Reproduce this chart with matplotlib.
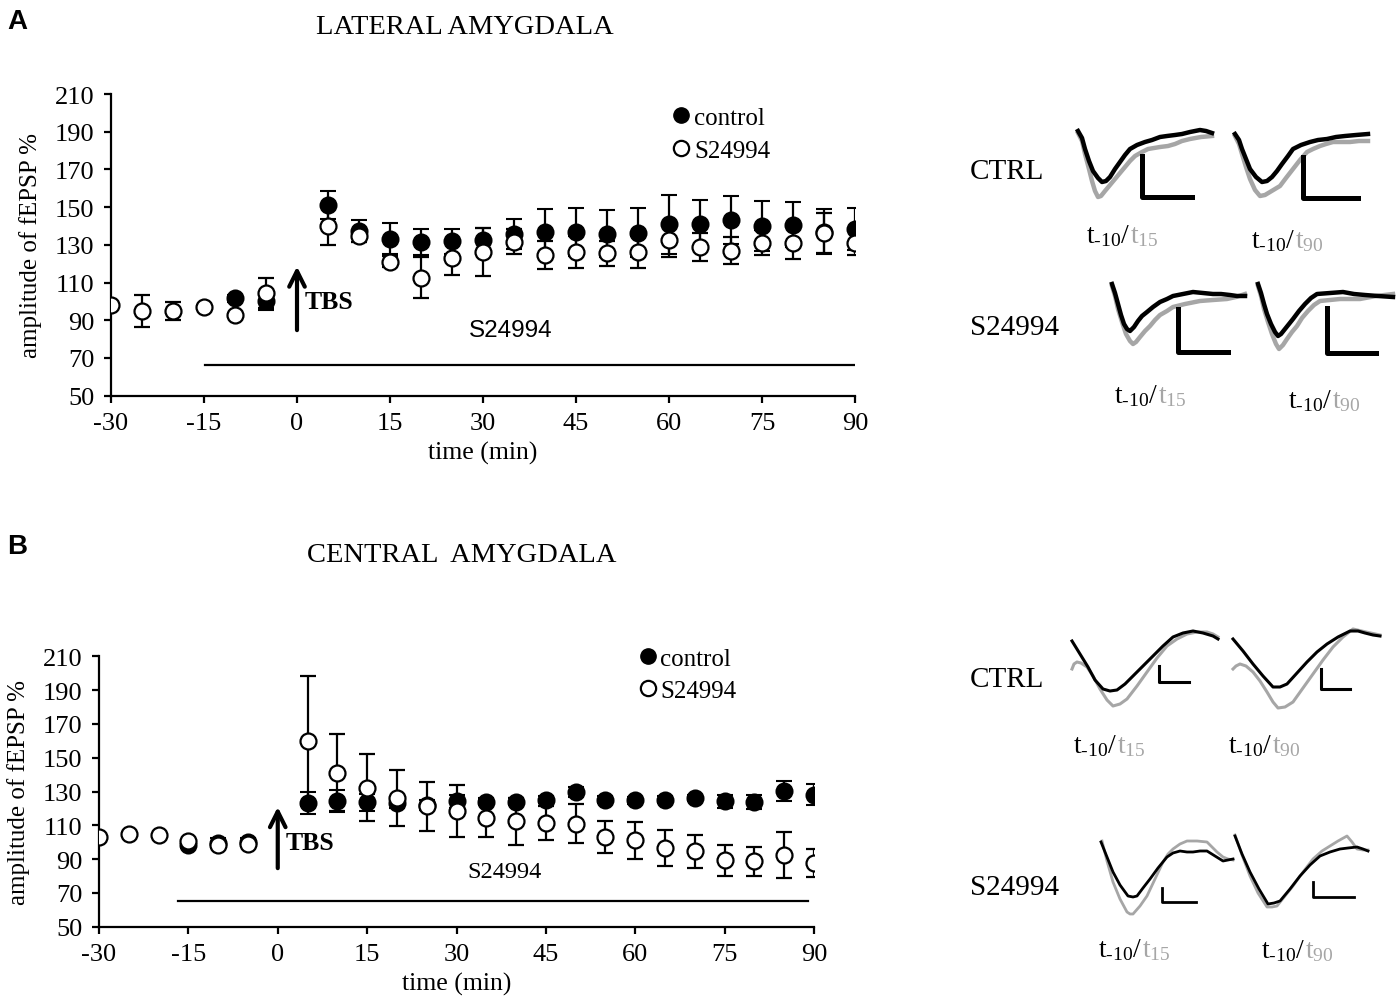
import numpy as np
import matplotlib
matplotlib.use("Agg")
import matplotlib.pyplot as plt
from matplotlib.lines import Line2D

plt.rcParams['font.family'] = ['Liberation Serif', 'DejaVu Serif']
plt.rcParams['mathtext.fontset'] = 'custom'
plt.rcParams['mathtext.rm'] = 'Liberation Serif'
plt.rcParams['mathtext.it'] = 'Liberation Serif:italic'
plt.rcParams['axes.unicode_minus'] = False

W, H = 1400, 1003

# ---- panel A : lateral amygdala ----
a_t_ctrl = [-10, -5, 5, 10, 15, 20, 25, 30, 35, 40, 45, 50, 55, 60, 65, 70, 75, 80, 85, 90]
a_ctrl = [101.6, 100.2, 151, 137.4, 133.3, 131.6, 131.8, 132.5, 135.6, 136.9, 136.9, 136.0,
          136.5, 141.0, 141.3, 143.1, 140.0, 140.6, 137.0, 138.3]
a_ctrl_err = [2, 4.5, 7.3, 5.7, 8.2, 6.9, 6.6, 6.5, 8, 12, 12.9, 12.4, 12.8, 15.6, 12.4,
              12.6, 13.4, 11.9, 12, 11.2]
a_t_drug = [-30, -25, -20, -15, -10, -5, 5, 10, 15, 20, 25, 30, 35, 40, 45, 50, 55, 60,
            65, 70, 75, 80, 85, 90]
a_drug = [98, 94.8, 94.8, 97.2, 92.7, 104.6, 140, 134.7, 121, 112.6, 122.9, 126.3, 131.7,
          124.6, 126.2, 125.5, 126.2, 132.5, 128.9, 126.8, 131.2, 130.9, 136.2, 131.2]
a_drug_err = [1, 8.5, 4.8, 1, 1, 8, 10.2, 3, 3, 10.8, 8.7, 12.8, 6.7, 7.2, 8.3, 6.7, 8.6,
              8.9, 7.4, 7.1, 6.7, 8.6, 10.7, 6.6]

# ---- panel B : central amygdala ----
b_t_ctrl = [-15, -10, -5, 5, 10, 15, 20, 25, 30, 35, 40, 45, 50, 55, 60, 65, 70, 75, 80, 85, 90]
b_ctrl = [98.5, 99.5, 100.3, 123.3, 124.2, 123.6, 123.3, 122, 124.2, 123.9, 123.9, 125.2,
          129.8, 125.2, 124.8, 125.2, 126.2, 124.2, 123.9, 130.2, 128.2]
b_ctrl_err = [2, 3, 2, 6.5, 6.5, 5, 3, 3, 4, 2, 2, 2, 3, 2, 2, 2, 2, 4, 4, 6, 6]
b_t_drug = a_t_drug
b_drug = [103.1, 104.9, 104.0, 100.5, 98.5, 98.9, 159.9, 141.1, 132.2, 126.2, 121.3, 118.7,
          114.4, 112.4, 111.4, 111.0, 103.1, 101.1, 96.6, 94.5, 89.2, 88.6, 92.6, 87.6]
b_drug_err = [1, 1, 1, 1, 1, 1, 38.6, 22.7, 19.8, 16.8, 14.4, 15.4, 11.3, 14, 10.3, 11.7,
              9.4, 10.8, 10.5, 9.8, 9.4, 8.7, 13.7, 8.4]

x_ticks = [-30, -15, 0, 15, 30, 45, 60, 75, 90]
y_ticks = [50, 70, 90, 110, 130, 150, 170, 190, 210]

# drug application bar and TBS arrow
a_drug_bar = (-14.8, 90.5, 66.3)
b_drug_bar = (-16.7, 89.0, 65.2)
a_arrow = (0, 83.3, 120)
b_arrow = (0, 83, 122.5)


def px_axes(left, top, right, bottom):
    return fig.add_axes([left / W, 1 - bottom / H, (right - left) / W, (bottom - top) / H])


def draw_panel(ax, tc, yc, ec, td, yd, ed, bar, arrow, drug_txt, drug_pos, drug_font,
               leg_anchor):
    ax.errorbar(tc, yc, yerr=ec, fmt='o', ms=11.5, mfc='black', mec='black', mew=1.5,
                ecolor='black', elinewidth=1.6, capsize=6, capthick=1.6, zorder=3)
    ax.errorbar(td, yd, yerr=ed, fmt='o', ms=11.5, mfc='white', mec='black', mew=1.6,
                ecolor='black', elinewidth=1.6, capsize=6, capthick=1.6, zorder=4)
    ax.plot([bar[0], bar[1]], [bar[2], bar[2]], color='black', lw=1.6, zorder=2)
    ax.annotate('', xy=(arrow[0], arrow[2]), xytext=(arrow[0], arrow[1]),
                arrowprops=dict(arrowstyle='->', lw=3, color='black', mutation_scale=28))
    ax.text(arrow[0] + 1.3, 100, 'TBS', fontsize=18.5, fontweight='bold', va='center')
    ax.text(drug_pos[0], drug_pos[1], drug_txt, fontsize=17.5, ha='center', va='center',
            family=drug_font)
    ax.set_xlim(-30, 90)
    ax.set_ylim(50, 210)
    ax.set_xticks(x_ticks)
    ax.set_yticks(y_ticks)
    ax.spines['top'].set_visible(False)
    ax.spines['right'].set_visible(False)
    for s in ('left', 'bottom'):
        ax.spines[s].set_linewidth(1.6)
    ax.tick_params(direction='out', length=5, width=1.6, labelsize=19, pad=7)
    ax.set_xlabel('time (min)', fontsize=18.5, labelpad=5)
    ax.set_ylabel('amplitude of fEPSP %', fontsize=18, labelpad=9)
    handles = [Line2D([], [], ls='none', marker='o', ms=11, mfc='black', mec='black'),
               Line2D([], [], ls='none', marker='o', ms=11, mfc='white', mec='black',
                      mew=1.6)]
    ax.legend(handles, ['control', 'S24994'], loc='center left', bbox_to_anchor=leg_anchor,
              frameon=False, fontsize=18, handlelength=0.7, handletextpad=0.15,
              labelspacing=0.4, borderpad=0, borderaxespad=0)
    ax.patch.set_alpha(0)


fig = plt.figure(figsize=(W / 100, H / 100), dpi=100)

axA = px_axes(111, 95, 855, 396.7)
draw_panel(axA, a_t_ctrl, a_ctrl, a_ctrl_err, a_t_drug, a_drug, a_drug_err, a_drug_bar,
           a_arrow, 'S24994', (34.5, 85), ['Liberation Sans'], (0.755, 0.867))
axB = px_axes(99, 657.3, 814, 927.7)
draw_panel(axB, b_t_ctrl, b_ctrl, b_ctrl_err, b_t_drug, b_drug, b_drug_err, b_drug_bar,
           b_arrow, 'S24994', (38, 82.5), ['Liberation Serif'], (0.755, 0.932))

fig.text(7 / W, 1 - 22 / H, 'A', fontsize=20, fontweight='bold', family='Liberation Sans',
         va='center')
fig.text(7 / W, 1 - 547 / H, 'B', fontsize=20, fontweight='bold', family='Liberation Sans',
         va='center')
fig.text(465 / W, 1 - 28 / H, 'LATERAL AMYGDALA', fontsize=20.5, ha='center', va='center')
fig.text(462 / W, 1 - 555 / H, 'CENTRAL  AMYGDALA', fontsize=20.5, ha='center', va='center')

# ---- example fEPSP traces (black t-10, grey t15 / t90) ----
grey = '#a6a6a6'
traces = [
    # box (left, top, w, h), black x, black y, grey x, grey y, scale bar (x, ytop, ybot, xend), lw
    ((1070, 125, 150, 80),
     [8, 12, 15, 19, 23, 28, 32, 36, 40, 45, 50, 55, 60, 67, 75, 82, 90, 97, 105, 112, 120,
      130, 136, 142],
     [7, 14, 25, 37, 47, 54, 58, 57, 53, 45, 38, 31, 25, 21, 18, 16, 13, 12, 11, 10, 8, 6, 7, 9],
     [8, 12, 15, 19, 22, 25, 28, 31, 35, 40, 45, 50, 55, 60, 65, 72, 78, 84, 90, 98, 105, 112,
      120, 131, 142],
     [9, 17, 30, 45, 57, 67, 73, 72, 67, 61, 55, 49, 43, 37, 32, 28, 25, 24, 23, 22, 20, 17,
      15, 13, 12],
     (72, 32, 73, 122), 3.2),
    ((1228, 125, 150, 80),
     [7, 11, 14, 18, 22, 28, 34, 39, 44, 49, 54, 60, 65, 73, 82, 90, 99, 108, 117, 128, 140],
     [10, 16, 25, 35, 45, 53, 58, 57, 53, 47, 40, 32, 25, 21, 18, 16, 15, 13, 12, 11, 10],
     [7, 11, 14, 18, 22, 27, 32, 37, 42, 47, 52, 58, 65, 72, 79, 85, 92, 98, 105, 113, 122,
      131, 140],
     [12, 20, 30, 43, 55, 66, 72, 71, 68, 65, 62, 54, 45, 36, 28, 25, 22, 20, 18, 18, 18, 17,
      17],
     (75, 33, 74, 130), 3.2),
    ((1105, 280, 145, 80),
     [7, 10, 13, 16, 19, 22, 25, 29, 33, 37, 42, 48, 55, 62, 68, 78, 88, 98, 108, 116, 125,
      132, 140],
     [5, 14, 25, 36, 45, 50, 52, 48, 42, 37, 33, 28, 23, 20, 17, 15, 13, 14, 15, 15, 16, 17,
      17],
     [7, 10, 13, 17, 21, 25, 28, 31, 35, 40, 45, 50, 55, 62, 68, 80, 95, 108, 122, 131, 140],
     [7, 17, 30, 43, 55, 62, 65, 63, 58, 52, 47, 41, 36, 32, 28, 25, 22, 21, 20, 18, 15],
     (73, 30, 73, 123), 3.2),
    ((1250, 280, 150, 80),
     [8, 11, 14, 17, 21, 25, 28, 31, 35, 39, 43, 49, 55, 61, 67, 80, 93, 104, 115, 128, 143],
     [5, 14, 25, 35, 45, 53, 57, 55, 50, 45, 40, 32, 25, 19, 15, 14, 13, 15, 16, 17, 18],
     [8, 11, 14, 18, 22, 26, 29, 33, 37, 42, 47, 52, 58, 64, 70, 80, 90, 100, 110, 126, 143],
     [7, 17, 30, 43, 55, 65, 70, 66, 60, 53, 47, 39, 32, 26, 22, 21, 20, 20, 20, 17, 15],
     (77, 29, 74, 126), 3.2),
    ((1065, 625, 160, 90),
     [7, 15, 23, 30, 38, 45, 52, 60, 68, 78, 88, 98, 108, 118, 128, 138, 148, 153],
     [17, 30, 43, 56, 65, 67, 66, 60, 52, 42, 32, 22, 13, 9, 7, 9, 12, 15],
     [7, 9, 12, 16, 22, 28, 35, 42, 48, 55, 62, 72, 82, 92, 102, 112, 122, 132, 142, 148, 153],
     [45, 40, 38, 39, 43, 52, 65, 76, 82, 80, 75, 62, 48, 34, 22, 15, 10, 8, 8, 10, 13],
     (94, 42, 58, 124), 2.2),
    ((1228, 625, 160, 90),
     [5, 15, 25, 35, 45, 52, 59, 69, 79, 89, 99, 110, 122, 130, 137, 145, 152],
     [15, 27, 40, 52, 63, 63, 60, 49, 38, 28, 20, 13, 7, 7, 9, 11, 12],
     [5, 8, 12, 18, 25, 32, 39, 45, 50, 57, 65, 75, 85, 95, 105, 115, 125, 138, 152],
     [45, 42, 40, 42, 48, 57, 68, 78, 84, 83, 78, 64, 50, 36, 23, 13, 5, 8, 11],
     (93, 45, 65, 122), 2.2),
    ((1095, 835, 145, 85),
     [6, 12, 18, 25, 33, 38, 42, 48, 55, 63, 72, 78, 85, 92, 98, 105, 112, 120, 128, 133, 138],
     [8, 23, 38, 51, 62, 63, 62, 54, 45, 34, 23, 19, 17, 18, 18, 17, 17, 22, 27, 26, 25],
     [7, 12, 18, 25, 32, 35, 38, 45, 52, 60, 68, 73, 78, 85, 92, 102, 112, 117, 122, 128, 133,
      138],
     [7, 27, 48, 65, 78, 80, 80, 72, 62, 45, 28, 20, 15, 10, 7, 7, 8, 13, 18, 23, 25, 26],
     (67, 54, 68, 101), 2.0),
    ((1228, 830, 145, 85),
     [7, 14, 22, 31, 40, 46, 52, 62, 72, 82, 92, 102, 112, 120, 129, 135, 140],
     [7, 25, 43, 60, 75, 74, 72, 60, 47, 36, 27, 23, 20, 19, 18, 20, 22],
     [7, 14, 22, 30, 39, 44, 49, 57, 65, 75, 85, 94, 102, 110, 119, 124, 129, 135, 140],
     [6, 26, 47, 64, 78, 78, 77, 67, 57, 43, 30, 22, 17, 12, 7, 13, 20, 21, 21],
     (85, 53, 68, 126), 2.0),
]

for (l, t, w, h), bx, by, gx, gy, sb, lw in traces:
    tax = px_axes(l, t, l + w, t + h)
    tax.plot(gx, gy, color=grey, lw=lw, solid_joinstyle='round')
    tax.plot(bx, by, color='black', lw=lw, solid_joinstyle='round')
    tax.plot([sb[0], sb[0], sb[3]], [sb[1], sb[2], sb[2]], color='black',
             lw=lw + 0.4 if lw > 3 else lw)
    tax.set_xlim(0, w)
    tax.set_ylim(h, 0)
    tax.axis('off')

row_labels = [('CTRL', 172), ('S24994', 328), ('CTRL', 680), ('S24994', 888)]
for txt, y in row_labels:
    fig.text(970 / W, 1 - y / H, txt, fontsize=21, va='center')

trace_labels = [(1130, 243, '15'), (1295, 248, '90'), (1158, 403, '15'), (1332, 408, '90'),
                (1117, 753, '15'), (1272, 753, '90'), (1142, 957, '15'), (1305, 958, '90')]
for x, y, sub in trace_labels:
    fig.text(x / W, 1 - y / H, r'$\mathregular{t_{\text{-10}}/}$', fontsize=20, ha='right',
             va='baseline', color='black')
    fig.text(x / W, 1 - y / H, r'$\mathregular{t_{%s}}$' % sub, fontsize=20, ha='left',
             va='baseline', color=grey)

fig.savefig('out.png', dpi=100)
